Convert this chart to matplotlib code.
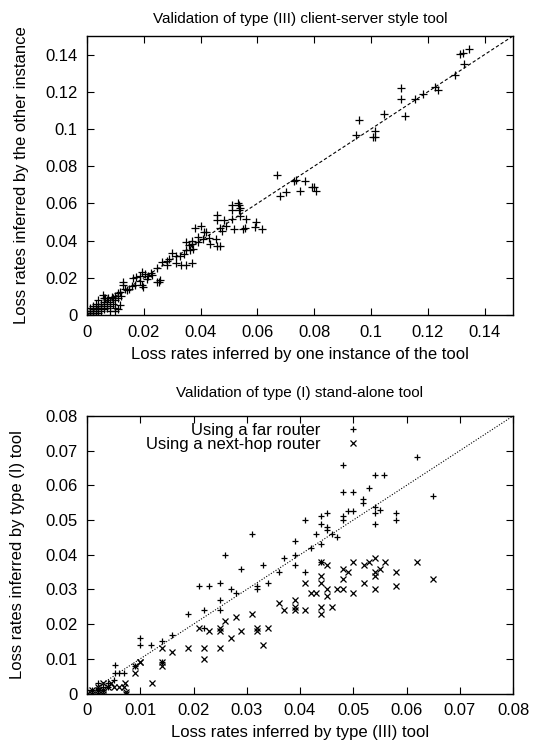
import matplotlib
matplotlib.use("Agg")
import matplotlib.pyplot as plt
import numpy as np

plt.rcParams['font.family'] = ['Liberation Sans', 'DejaVu Sans']

# ---------------- Top chart data: type (III) instance vs other instance
top_x = [0.1315, 0.1325, 0.1345, 0.1326, 0.1296, 0.1224, 0.1235, 0.1182, 0.1156, 0.1107,
         0.1107, 0.1118, 0.1047, 0.0957, 0.0948, 0.1015, 0.1007, 0.1013,
         0.0669, 0.0735, 0.0729, 0.0769, 0.0678, 0.0699, 0.0749, 0.0792, 0.0799, 0.0807,
         0.0510, 0.0510, 0.0530, 0.0536, 0.0536, 0.0538, 0.0459, 0.0459, 0.0483, 0.0511,
         0.0538, 0.0559, 0.0596, 0.0590, 0.0617, 0.0549, 0.0557, 0.0518, 0.0489, 0.0467,
         0.0476, 0.0453, 0.0456, 0.0470, 0.0432, 0.0380, 0.0401, 0.0413, 0.0418, 0.0391,
         0.0391, 0.0371, 0.0371, 0.0350, 0.0348, 0.0362, 0.0374, 0.0313, 0.0330, 0.0350,
         0.0371, 0.0315, 0.0327, 0.0282, 0.0290, 0.0301,
         0.0257, 0.0245, 0.0253, 0.0247, 0.0225, 0.0216, 0.0192, 0.0204, 0.0186, 0.0186,
         0.0163, 0.0172, 0.0192, 0.0198, 0.0157, 0.0148, 0.0135, 0.0128, 0.0128, 0.0108,
         0.0098, 0.0087, 0.0075, 0.0063, 0.0058,
         0.0115, 0.0140, 0.0170, 0.0210, 0.0230, 0.0265, 0.0280, 0.0340, 0.0360, 0.0410, 0.0430,
         0.0000, 0.0010, 0.0020, 0.0030, 0.0010, 0.0020, 0.0000, 0.0010, 0.0030, 0.0040,
         0.0020, 0.0040, 0.0050, 0.0030, 0.0050, 0.0060, 0.0040, 0.0060, 0.0070, 0.0050,
         0.0070, 0.0080, 0.0060, 0.0080, 0.0090, 0.0100, 0.0110, 0.0116, 0.0020, 0.0030,
         0.0040, 0.0060, 0.0070, 0.0090, 0.0100, 0.0110, 0.0120, 0.0010, 0.0080, 0.0100]
top_y = [0.1405, 0.1410, 0.1430, 0.1351, 0.1288, 0.1226, 0.1211, 0.1190, 0.1159, 0.1220,
         0.1159, 0.1069, 0.1078, 0.1051, 0.0967, 0.0987, 0.0958, 0.0958,
         0.0751, 0.0728, 0.0722, 0.0719, 0.0638, 0.0660, 0.0668, 0.0690, 0.0690, 0.0668,
         0.0593, 0.0566, 0.0602, 0.0593, 0.0566, 0.0575, 0.0539, 0.0512, 0.0512, 0.0517,
         0.0530, 0.0517, 0.0498, 0.0473, 0.0462, 0.0460, 0.0467, 0.0462, 0.0480, 0.0470,
         0.0452, 0.0408, 0.0372, 0.0372, 0.0381, 0.0470, 0.0477, 0.0444, 0.0444, 0.0422,
         0.0395, 0.0400, 0.0383, 0.0395, 0.0350, 0.0350, 0.0354, 0.0280, 0.0270, 0.0270,
         0.0280, 0.0318, 0.0318, 0.0290, 0.0300, 0.0336,
         0.0190, 0.0180, 0.0176, 0.0252, 0.0225, 0.0210, 0.0230, 0.0220, 0.0207, 0.0185,
         0.0198, 0.0202, 0.0162, 0.0153, 0.0155, 0.0140, 0.0140, 0.0162, 0.0180, 0.0117,
         0.0103, 0.0099, 0.0090, 0.0090, 0.0108,
         0.0125, 0.0135, 0.0160, 0.0195, 0.0215, 0.0285, 0.0270, 0.0330, 0.0375, 0.0410, 0.0415,
         0.0000, 0.0000, 0.0000, 0.0000, 0.0010, 0.0010, 0.0020, 0.0020, 0.0020, 0.0010,
         0.0030, 0.0030, 0.0020, 0.0040, 0.0040, 0.0030, 0.0050, 0.0050, 0.0040, 0.0060,
         0.0060, 0.0050, 0.0070, 0.0070, 0.0060, 0.0040, 0.0030, 0.0054, 0.0050, 0.0060,
         0.0080, 0.0090, 0.0080, 0.0090, 0.0080, 0.0090, 0.0100, 0.0040, 0.0020, 0.0020]

# ---------------- Bottom chart data: type (I) vs type (III)
far_x = [0.0619, 0.0481, 0.0540, 0.0558, 0.0481, 0.0500, 0.0530, 0.0519, 0.0519, 0.0650,
         0.0540, 0.0550, 0.0540, 0.0540, 0.0580, 0.0580, 0.0490, 0.0500, 0.0480, 0.0480,
         0.0440, 0.0450, 0.0440, 0.0450, 0.0450, 0.0460, 0.0470, 0.0410, 0.0430, 0.0440,
         0.0420, 0.0390, 0.0310, 0.0390, 0.0390, 0.0370, 0.0360, 0.0410, 0.0440, 0.0330,
         0.0340, 0.0320, 0.0320, 0.0290, 0.0260, 0.0270, 0.0280, 0.0210, 0.0230, 0.0250,
         0.0250, 0.0220, 0.0250, 0.0190, 0.0220, 0.0160, 0.0140, 0.0100, 0.0100, 0.0120,
         0.0053, 0.0140,
         0.0000, 0.0010, 0.0020, 0.0010, 0.0020, 0.0030, 0.0000, 0.0030, 0.0040, 0.0050,
         0.0052, 0.0060, 0.0070, 0.0091, 0.0073, 0.0040, 0.0020]
far_y = [0.0681, 0.0660, 0.0630, 0.0630, 0.0580, 0.0580, 0.0591, 0.0562, 0.0550, 0.0570,
         0.0538, 0.0530, 0.0520, 0.0490, 0.0520, 0.0500, 0.0527, 0.0527, 0.0513, 0.0500,
         0.0513, 0.0520, 0.0490, 0.0480, 0.0470, 0.0460, 0.0450, 0.0500, 0.0460, 0.0430,
         0.0420, 0.0440, 0.0460, 0.0400, 0.0370, 0.0390, 0.0350, 0.0350, 0.0380, 0.0370,
         0.0320, 0.0310, 0.0300, 0.0360, 0.0400, 0.0300, 0.0290, 0.0310, 0.0310, 0.0320,
         0.0270, 0.0240, 0.0240, 0.0230, 0.0190, 0.0170, 0.0150, 0.0160, 0.0140, 0.0140,
         0.0082, 0.0090,
         0.0000, 0.0000, 0.0000, 0.0010, 0.0010, 0.0010, 0.0010, 0.0020, 0.0030, 0.0040,
         0.0060, 0.0060, 0.0060, 0.0079, 0.0000, 0.0020, 0.0030]

hop_x = [0.0620, 0.0650, 0.0580, 0.0580, 0.0560, 0.0540, 0.0530, 0.0520, 0.0540, 0.0550,
         0.0540, 0.0540, 0.0500, 0.0480, 0.0490, 0.0480, 0.0520, 0.0500, 0.0440, 0.0450,
         0.0440, 0.0440, 0.0410, 0.0420, 0.0430, 0.0450, 0.0450, 0.0470, 0.0480, 0.0360,
         0.0370, 0.0390, 0.0390, 0.0390, 0.0410, 0.0440, 0.0440, 0.0460, 0.0310, 0.0280,
         0.0260, 0.0210, 0.0230, 0.0250, 0.0250, 0.0290, 0.0320, 0.0320, 0.0340, 0.0270,
         0.0330, 0.0190, 0.0220, 0.0250, 0.0220, 0.0160, 0.0140, 0.0140, 0.0140, 0.0100,
         0.0090,
         0.0000, 0.0010, 0.0020, 0.0030, 0.0010, 0.0020, 0.0030, 0.0040, 0.0050, 0.0060,
         0.0070, 0.0045, 0.0072, 0.0122, 0.0091, 0.0100, 0.0073, 0.0073, 0.0020, 0.0030]
hop_y = [0.0380, 0.0330, 0.0350, 0.0310, 0.0380, 0.0390, 0.0380, 0.0370, 0.0350, 0.0360,
         0.0340, 0.0300, 0.0380, 0.0360, 0.0350, 0.0330, 0.0320, 0.0290, 0.0380, 0.0370,
         0.0340, 0.0320, 0.0320, 0.0290, 0.0290, 0.0300, 0.0280, 0.0300, 0.0300, 0.0260,
         0.0240, 0.0270, 0.0250, 0.0240, 0.0240, 0.0250, 0.0230, 0.0250, 0.0230, 0.0220,
         0.0210, 0.0190, 0.0180, 0.0190, 0.0180, 0.0180, 0.0190, 0.0180, 0.0190, 0.0160,
         0.0140, 0.0130, 0.0130, 0.0130, 0.0100, 0.0120, 0.0130, 0.0090, 0.0080, 0.0090,
         0.0080,
         0.0000, 0.0000, 0.0000, 0.0000, 0.0010, 0.0010, 0.0010, 0.0020, 0.0020, 0.0020,
         0.0020, 0.0030, 0.0031, 0.0031, 0.0060, 0.0090, 0.0000, 0.0005, 0.0020, 0.0030]

top_ticks = [0, 0.02, 0.04, 0.06, 0.08, 0.1, 0.12, 0.14]
top_ticklabels = ['0', '0.02', '0.04', '0.06', '0.08', '0.1', '0.12', '0.14']
bot_ticks = [0, 0.01, 0.02, 0.03, 0.04, 0.05, 0.06, 0.07, 0.08]
bot_ticklabels = ['0', '0.01', '0.02', '0.03', '0.04', '0.05', '0.06', '0.07', '0.08']

W, H = 534, 747
fig = plt.figure(figsize=(W / 100, H / 100), dpi=100)

TICK_FS = 12
LABEL_FS = 12
TITLE_FS = 11

def style(ax, ticks, labels):
    ax.set_xticks(ticks)
    ax.set_xticklabels(labels)
    ax.set_yticks(ticks)
    ax.set_yticklabels(labels)
    ax.tick_params(direction='in', top=True, right=True, length=5, width=0.8,
                   labelsize=TICK_FS, pad=7)
    for s in ax.spines.values():
        s.set_linewidth(1.0)

# ---- top axes
ax1 = fig.add_axes([87 / W, 1 - 315 / H, 426 / W, 279 / H])
ax1.plot([0, 0.15], [0, 0.15], color='black', lw=0.8, ls=(0, (3, 2)))
ax1.plot(top_x, top_y, ls='none', marker='+', ms=5.5, mew=0.9, color='black')
ax1.set_xlim(0, 0.15)
ax1.set_ylim(0, 0.15)
style(ax1, top_ticks, top_ticklabels)
ax1.set_title('Validation of type (III) client-server style tool', fontsize=TITLE_FS, pad=9)
ax1.set_xlabel('Loss rates inferred by one instance of the tool', fontsize=LABEL_FS, labelpad=5)
ax1.set_ylabel('Loss rates inferred by the other instance', fontsize=LABEL_FS)
ax1.yaxis.set_label_coords(-0.137, 0.5)

# ---- bottom axes
ax2 = fig.add_axes([87 / W, 1 - 693.5 / H, 426 / W, 277.5 / H])
ax2.plot([0, 0.08], [0, 0.08], color='black', lw=0.8, ls=(0, (1, 1.5)))
ax2.plot(far_x, far_y, ls='none', marker='+', ms=4.5, mew=0.9, color='black',
         label='Using a far router')
ax2.plot(hop_x, hop_y, ls='none', marker='x', ms=3.8, mew=0.9, color='black',
         label='Using a next-hop router')
ax2.set_xlim(0, 0.08)
ax2.set_ylim(0, 0.08)
style(ax2, bot_ticks, bot_ticklabels)
ax2.set_title('Validation of type (I) stand-alone tool', fontsize=TITLE_FS, pad=14)
ax2.set_xlabel('Loss rates inferred by type (III) tool', fontsize=LABEL_FS, labelpad=5)
ax2.set_ylabel('Loss rates inferred by type (I) tool', fontsize=LABEL_FS)
ax2.yaxis.set_label_coords(-0.145, 0.5)

h, l = ax2.get_legend_handles_labels()
ax2.legend(h, l, loc='upper right', bbox_to_anchor=(0.664, 0.975), frameon=False,
           markerfirst=False, numpoints=1, handlelength=2.0, handletextpad=0.95,
           labelspacing=-0.05, borderpad=0.0, borderaxespad=0.0, fontsize=LABEL_FS)

fig.savefig('out.png', dpi=100)
